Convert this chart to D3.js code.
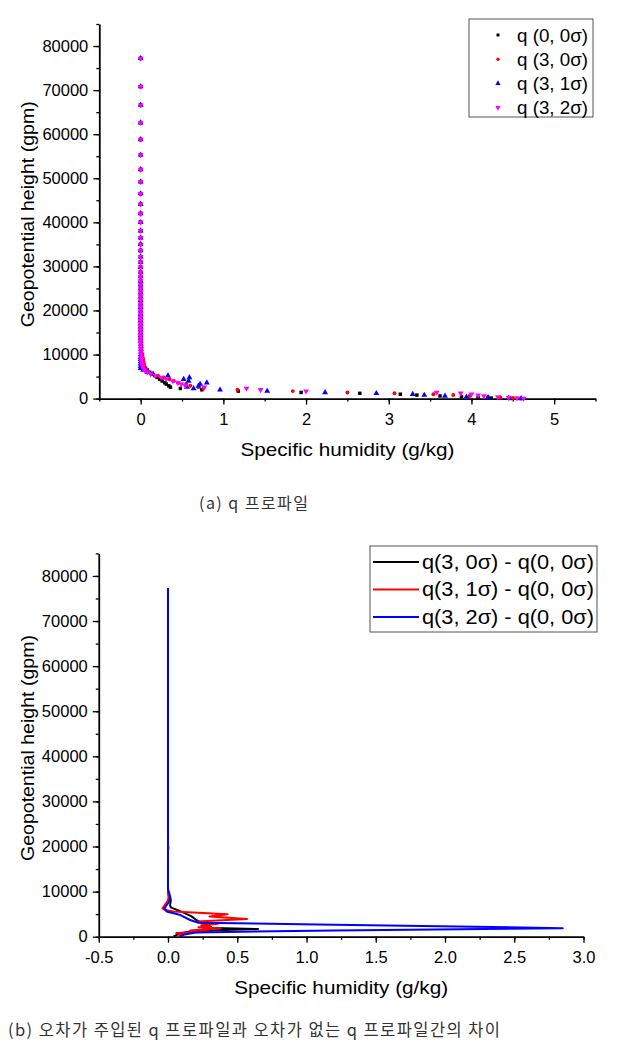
<!DOCTYPE html>
<html>
<head>
<meta charset="utf-8">
<script src="https://cdn.jsdelivr.net/npm/d3@7"></script>
<style>
  body { margin: 0; background: #fff; }
  svg text { font-family: "Liberation Sans", Arial, sans-serif; fill: #000; }
  svg text.cap { font-family: "Noto Sans CJK KR", sans-serif; fill: #333; }
</style>
</head>
<body>
<svg id="chart" width="624" height="1060"></svg>
<script>
// model level heights (gpm), shared by the four q profiles
const levels = [77200, 70800, 66600, 62600, 58800, 55300, 52000, 49200, 46500, 44100,
  42000, 40000, 38100, 36500, 35000, 33600, 32200, 31000, 29800, 28700,
  27700, 26700, 25800, 24900, 24000, 23100, 22300, 21500, 20700, 19900,
  19100, 18400, 17700, 17000, 16300, 15600, 14900, 14300, 13600, 13000,
  12400, 11800, 11200, 10600, 10000, 9400, 8900, 8400, 7900, 7400,
  6900, 6500, 6000, 5600, 5200, 4800, 4400, 4000, 3600, 3300,
  2900, 2600, 2300, 2000, 1700, 1400, 1200, 1000, 800, 600,
  400, 250, 120, 30];

// upper 44 levels are ~0 for every run
const upperZero = [0, 0, 0, 0, 0, 0, 0, 0, 0, 0, 0, 0, 0, 0, 0, 0, 0, 0, 0, 0,
  0, 0, 0, 0, 0, 0, 0, 0, 0, 0, 0, 0, 0, 0, 0, 0, 0, 0, 0, 0, 0.002, 0.003, 0.004, 0.005];

const q00 = upperZero.concat([0.008, 0.01, 0.012, 0.015, 0.02, 0.03,
  0.06, 0.08, 0.11, 0.14, 0.17, 0.2, 0.23, 0.26, 0.29, 0.31,
  0.34, 0.36, 0.48, 0.74, 1.18, 1.94, 2.65, 3.14, 3.34, 3.62,
  3.88, 4.08, 4.24, 4.47]);
const q30 = upperZero.concat([0.02, 0.025, 0.03, 0.035, 0.04, 0.045,
  0.05, 0.07, 0.09, 0.14, 0.21, 0.28, 0.35, 0.4, 0.45, 0.55,
  0.6, 0.7, 0.76, 1.17, 1.84, 2.5, 3.07, 3.54, 3.78, 3.98,
  4.2, 4.35, 4.5, 4.6]);
const q31 = upperZero.concat([0, 0, 0, 0, 0, 0,
  0, 0.03, 0.08, 0.15, 0.33, 0.59, 0.52, 0.58, 0.8, 0.72,
  0.7, 0.56, 0.64, 0.96, 1.53, 2.23, 2.85, 3.29, 3.43, 3.68,
  3.94, 4.2, 4.45, 4.6]);
const q32 = upperZero.concat([0.005, 0.008, 0.01, 0.012, 0.015, 0.02,
  0.03, 0.05, 0.08, 0.12, 0.18, 0.25, 0.31, 0.39, 0.45, 0.49,
  0.54, 0.77, 1.28, 1.45, 2.0, 3.58, 3.87, 4.0, 4.08, 4.15,
  4.32, 4.45, 4.55, 4.63]);

const seriesA = [
  { name: "q (0, 0σ)", color: "#000000", shape: d3.symbolSquare, rot: 0, q: q00 },
  { name: "q (3, 0σ)", color: "#ff0000", shape: d3.symbolCircle, rot: 0, q: q30 },
  { name: "q (3, 1σ)", color: "#0000ff", shape: d3.symbolTriangle, rot: 0, q: q31 },
  { name: "q (3, 2σ)", color: "#ff00ff", shape: d3.symbolTriangle, rot: 180, q: q32 }
];

const diff30 = [[0, 77300], [0, 10200], [0.005, 9000], [0.02, 8000], [0.015, 7000], [0.02, 6500],
  [0.1, 5500], [0.17, 4500], [0.2, 3800], [0.24, 3100], [0.28, 2500], [0.31, 2200],
  [0.26, 2000], [0.65, 1700], [0.35, 1450], [0.15, 1100], [0.08, 700], [0.05, 200], [0.04, 0]];
const diff31 = [[0, 77300], [0, 20500], [0.003, 19800], [0, 19000], [0, 10200], [0.005, 9000],
  [0, 8000], [-0.04, 6300], [-0.02, 5900], [0.04, 5600], [0.43, 5000], [0.3, 4500],
  [0.57, 3900], [0.21, 3350], [0.36, 2850], [0.24, 2550], [0.3, 2300], [0.22, 2100],
  [0.38, 1850], [0.16, 1350], [0.3, 1100], [0.06, 800], [0.1, 400], [0.07, 0]];
const diff32 = [[0, 77300], [0, 10500], [0.01, 9600], [0.02, 8300], [-0.025, 6300], [-0.01, 5600],
  [0.09, 4800], [0.16, 3700], [0.22, 3100], [1.2, 2650], [2.85, 1900], [1.2, 1400],
  [0.2, 950], [0.12, 500], [0.09, 100], [0.1, 0]];

const seriesB = [
  { name: "q(3, 0σ) - q(0, 0σ)", color: "#000000", d: diff30 },
  { name: "q(3, 1σ) - q(0, 0σ)", color: "#ff0000", d: diff31 },
  { name: "q(3, 2σ) - q(0, 0σ)", color: "#0000ff", d: diff32 }
];

const yTicks = d3.range(0, 80001, 10000);
const yMinor = d3.range(0, 85001, 5000);

const svg = d3.select("#chart");

function drawAxes(g, x, y, xTicks, xMinor, xFmt) {
  const xa = g.append("g").attr("transform", `translate(0,${y.range()[0]})`)
    .call(d3.axisBottom(x).tickValues(xMinor).tickSize(3).tickFormat(""));
  xa.select(".domain").remove();
  const xb = g.append("g").attr("transform", `translate(0,${y.range()[0]})`)
    .call(d3.axisBottom(x).tickValues(xTicks).tickSize(6).tickSizeOuter(0).tickPadding(5).tickFormat(xFmt));
  const ya = g.append("g").attr("transform", `translate(${x.range()[0]},0)`)
    .call(d3.axisLeft(y).tickValues(yMinor).tickSize(3).tickFormat(""));
  ya.select(".domain").remove();
  g.append("g").attr("transform", `translate(${x.range()[0]},0)`)
    .call(d3.axisLeft(y).tickValues(yTicks).tickSize(6).tickSizeOuter(0).tickPadding(5).tickFormat(d3.format("d")));
  g.selectAll(".tick line").attr("stroke", "#000").attr("stroke-width", 1.3);
  g.selectAll(".domain").attr("stroke", "#000").attr("stroke-width", 1.8);
  g.selectAll(".tick text").attr("font-size", 16.5);
  xb.selectAll(".tick text").attr("dy", "0.95em");

  const midX = (x.range()[0] + x.range()[1]) / 2;
  g.append("text").attr("x", midX).attr("y", y.range()[0] + 57)
    .attr("text-anchor", "middle").attr("font-size", 19)
    .attr("textLength", 214).attr("lengthAdjust", "spacingAndGlyphs")
    .text("Specific humidity (g/kg)");
  const midY = (y.range()[0] + y.range()[1]) / 2 + 3;
  g.append("text").attr("transform", `translate(34,${midY}) rotate(-90)`)
    .attr("text-anchor", "middle").attr("font-size", 19)
    .attr("textLength", 226).attr("lengthAdjust", "spacingAndGlyphs")
    .text("Geopotential height (gpm)");
}

// ---------- (a) q profiles ----------
const xA = d3.scaleLinear().domain([-0.5, 5.5]).range([99.3, 595.5]);
const yA = d3.scaleLinear().domain([0, 85000]).range([398.6, 24]);
const gA = svg.append("g");
drawAxes(gA, xA, yA, d3.range(0, 5.1, 1), d3.range(-0.5, 5.51, 0.5), d3.format("d"));

seriesA.forEach(s => {
  const sym = d3.symbol().type(s.shape).size(s.shape === d3.symbolTriangle ? 15 : 12);
  gA.append("g").selectAll("path").data(levels)
    .join("path")
    .attr("d", sym)
    .attr("fill", s.color)
    .attr("transform", (h, i) => `translate(${xA(s.q[i])},${yA(h)}) rotate(${s.rot})`);
});

// legend (a)
const lgA = gA.append("g").attr("transform", "translate(469,19)");
lgA.append("rect").attr("width", 124).attr("height", 98)
  .attr("fill", "#fff").attr("stroke", "#555").attr("stroke-width", 1);
seriesA.forEach((s, i) => {
  const yy = 16 + i * 24.2;
  lgA.append("path")
    .attr("d", d3.symbol().type(s.shape).size(s.shape === d3.symbolTriangle ? 12 : 9)())
    .attr("fill", s.color)
    .attr("transform", `translate(29,${yy}) rotate(${s.rot})`);
  lgA.append("text").attr("x", 48).attr("y", yy + 6.5).attr("font-size", 18.5)
    .attr("textLength", 71).attr("lengthAdjust", "spacingAndGlyphs").text(s.name);
});

svg.append("text").attr("class", "cap").attr("x", 199).attr("y", 509)
  .attr("font-size", 16).attr("textLength", 109).attr("lengthAdjust", "spacing")
  .text("(a) q 프로파일");

// ---------- (b) differences ----------
const xB = d3.scaleLinear().domain([-0.5, 3.0]).range([98.75, 583.5]);
const yB = d3.scaleLinear().domain([0, 85000]).range([936.7, 553.4]);
const gB = svg.append("g");
drawAxes(gB, xB, yB, d3.range(-0.5, 3.01, 0.5), d3.range(-0.5, 3.01, 0.25),
  d => d3.format(".1f")(d).replace("−", "-"));

const line = d3.line().x(d => xB(d[0])).y(d => yB(d[1]));
seriesB.forEach(s => {
  gB.append("path").datum(s.d)
    .attr("d", line)
    .attr("fill", "none")
    .attr("stroke", s.color)
    .attr("stroke-width", 2)
    .attr("stroke-linejoin", "round");
});

// legend (b)
const lgB = gB.append("g").attr("transform", "translate(370,546)");
lgB.append("rect").attr("width", 227).attr("height", 86)
  .attr("fill", "#fff").attr("stroke", "#555").attr("stroke-width", 1);
seriesB.forEach((s, i) => {
  const yy = 16 + i * 27.5;
  lgB.append("line").attr("x1", 3).attr("x2", 49).attr("y1", yy).attr("y2", yy)
    .attr("stroke", s.color).attr("stroke-width", 2);
  lgB.append("text").attr("x", 52).attr("y", yy + 6.5).attr("font-size", 19.5)
    .attr("textLength", 172).attr("lengthAdjust", "spacingAndGlyphs").text(s.name);
});

svg.append("text").attr("class", "cap").attr("x", 8).attr("y", 1036)
  .attr("font-size", 16.5).attr("textLength", 492).attr("lengthAdjust", "spacing")
  .text("(b) 오차가 주입된 q 프로파일과 오차가 없는 q 프로파일간의 차이");
</script>
</body>
</html>
